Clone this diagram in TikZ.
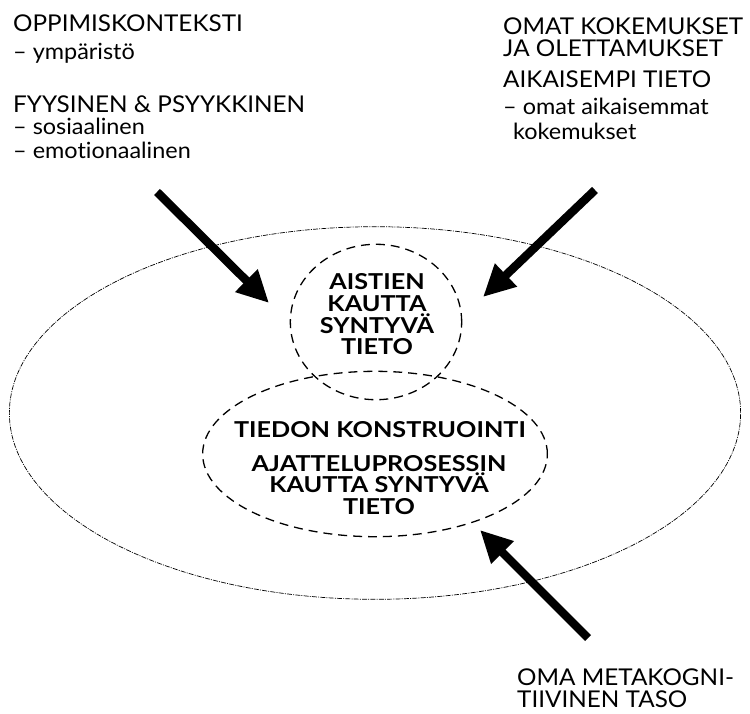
\documentclass[tikz,border=0pt]{standalone}
\usepackage{fontspec}
\setmainfont{Lato}[Ligatures=NoCommon, FakeStretch=1.05]
\newfontfamily\corefont{Lato}[Ligatures=NoCommon, FakeStretch=1.15]
\usetikzlibrary{shapes.geometric,arrows.meta}
\begin{document}
\begin{tikzpicture}[x=1bp,y=-1bp,
  caption/.style={anchor=base west, inner sep=0pt, font=\fontsize{23.2}{23.2}\selectfont},
  minor/.style={caption, font=\fontsize{22.4}{22.4}\selectfont},
  core/.style={align=center, inner sep=0pt, font=\corefont\bfseries\fontsize{22}{21.7}\selectfont},
  region/.style={ellipse, draw, inner sep=0pt, line width=0.7pt,
    dash pattern=on 5pt off 1.2pt on 1pt off 1.2pt},
  zone/.style={ellipse, draw, inner sep=0pt, line width=1.3pt,
    dash pattern=on 9pt off 6pt},
  push/.style={line width=8.5pt, -{Triangle[length=32pt,width=30pt]}}]
\useasboundingbox (0,0) rectangle (750,714);

% ellipses: learning environment, sensory knowledge, construction of knowledge
\node[region, minimum width=734, minimum height=374] (env) at (375,413) {};
\node[zone, minimum width=172, minimum height=156] (sense) at (376,322) {};
\node[zone, minimum width=346, minimum height=166] (build) at (375,454) {};

% texts inside the ellipses
\node[core] (senseText) at (377,314.5) {AISTIEN\\KAUTTA\\SYNTYVÄ\\TIETO};
\node[core, anchor=base] (buildTitle) at (380,437) {TIEDON KONSTRUOINTI};
\node[core] (buildText) at (379,485) {AJATTELUPROSESSIN\\KAUTTA SYNTYVÄ\\TIETO};

% learning context, upper left
\node[caption] (ctx1) at (13,32) {OPPIMISKONTEKSTI};
\node[minor] (ctx2) at (13,60) {– ympäristö};
\node[caption] (ctx3) at (13,113) {FYYSINEN \& PSYYKKINEN};
\node[minor] (ctx4) at (13,135) {– sosiaalinen};
\node[minor] (ctx5) at (13,158) {– emotionaalinen};

% prior experience, upper right
\node[caption] (exp1) at (503,35) {OMAT KOKEMUKSET};
\node[caption] (exp2) at (503,57) {JA OLETTAMUKSET};
\node[caption] (exp3) at (503,88) {AIKAISEMPI TIETO};
\node[minor] (exp4) at (503,115) {– omat aikaisemmat};
\node[minor] (exp5) at (513,140) {kokemukset};

% metacognition, bottom right
\node[caption] (meta1) at (517,685) {OMA METAKOGNI-};
\node[caption] (meta2) at (517,707) {TIIVINEN TASO};

% arrows
\coordinate (ctxTail) at (157,192);
\coordinate (ctxTip) at (269,303);
\coordinate (expTail) at (595,190);
\coordinate (expTip) at (483,297);
\coordinate (metaTail) at (588,638);
\coordinate (metaTip) at (480,530);
\draw[push] (ctxTail) -- (ctxTip);
\draw[push] (expTail) -- (expTip);
\draw[push] (metaTail) -- (metaTip);
\end{tikzpicture}
\end{document}
